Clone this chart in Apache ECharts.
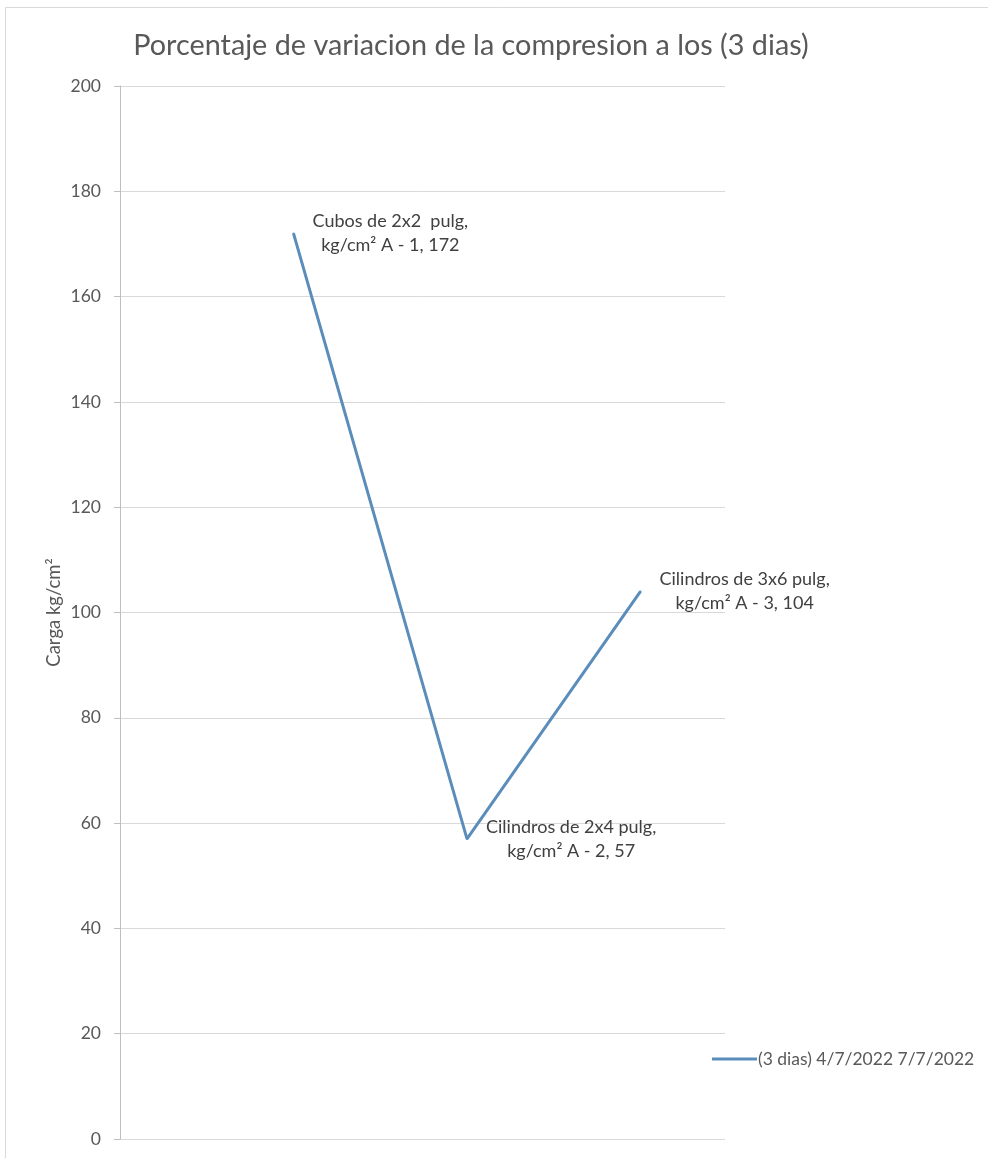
<!DOCTYPE html>
<html>
<head>
<meta charset="utf-8">
<script src="https://cdn.jsdelivr.net/npm/echarts@6/dist/echarts.min.js"></script>
<style>
  html, body { margin: 0; padding: 0; background: #ffffff; }
  #chart { width: 988px; height: 1158px; }
</style>
</head>
<body>
<div id="chart"></div>
<script>
// Test specimens, their sample codes and 3-day compressive load (kg/cm²)
const specimens = ['Cubos de 2x2  pulg, kg/cm²', 'Cilindros de 2x4 pulg, kg/cm²', 'Cilindros de 3x6 pulg, kg/cm²'];
const samples = ['A - 1', 'A - 2', 'A - 3'];
const loads = [172, 57, 104];
const yTicks = [0, 20, 40, 60, 80, 100, 120, 140, 160, 180, 200];
const seriesName = '(3 dias) 4/7/2022 7/7/2022';

const FONT = 'Lato, "Open Sans", sans-serif';
const LINE_COLOR = '#5b8dbb';
const LABEL_SIZE = 18;
const LABEL_GAP = 19;

// Label text: specimen name broken after "pulg,", then sample code and value
function labelText(i) {
  const s = specimens[i].replace(/pulg,\s*/, 'pulg,\n');
  return s + ' ' + samples[i] + ', ' + loads[i];
}

// Width of the widest label line, so each two-line block (centred lines)
// starts a fixed gap to the right of its point
const ctx = document.createElement('canvas').getContext('2d');
ctx.font = LABEL_SIZE + 'px ' + FONT;
function blockWidth(text) {
  return Math.max.apply(null, text.split('\n').map(l => ctx.measureText(l).width));
}

const points = loads.map((v, i) => {
  const txt = labelText(i);
  return {
    value: [i + 1, v],
    label: { offset: [LABEL_GAP + blockWidth(txt) / 2, 0] }
  };
});

const chart = echarts.init(document.getElementById('chart'), null, { renderer: 'canvas' });
chart.setOption({
  backgroundColor: '#ffffff',
  animation: false,
  textStyle: { fontFamily: FONT },
  title: {
    text: 'Porcentaje de variacion de la compresion a los (3 dias)',
    left: 466,
    textAlign: 'center',
    top: 26,
    textStyle: { fontFamily: FONT, fontSize: 28.8, fontWeight: 'normal', color: '#595959' }
  },
  graphic: [{
    type: 'rect',
    shape: { x: 5.5, y: 7.5, width: 1000, height: 1200 },
    style: { fill: 'none', stroke: '#d9d9d9', lineWidth: 1 },
    silent: true
  }],
  legend: {
    data: [{ name: seriesName, itemStyle: { color: LINE_COLOR, opacity: 1 } }],
    left: 707,
    top: 1045,
    icon: 'rect',
    itemWidth: 45,
    itemHeight: 3,
    textStyle: { fontFamily: FONT, fontSize: 17.5, color: '#595959', padding: [0, 0, 0, -4] }
  },
  grid: { left: 120, right: 263, top: 86, bottom: 19, containLabel: false },
  xAxis: {
    type: 'value',
    min: 0,
    max: 3.487,
    show: false
  },
  yAxis: {
    type: 'value',
    min: yTicks[0],
    max: yTicks[yTicks.length - 1],
    interval: yTicks[1] - yTicks[0],
    name: 'Carga kg/cm²',
    nameLocation: 'middle',
    nameGap: 56,
    nameMoveOverlap: false,
    nameTextStyle: { fontFamily: FONT, fontSize: 18.5, color: '#595959' },
    axisLine: { show: true, lineStyle: { color: '#bfbfbf', width: 1 } },
    axisTick: { show: true, length: 6, lineStyle: { color: '#bfbfbf' } },
    axisLabel: { margin: 19, fontFamily: FONT, fontSize: 17.5, color: '#595959' },
    splitLine: { show: true, lineStyle: { color: '#d9d9d9', width: 1 } }
  },
  series: [{
    name: seriesName,
    type: 'line',
    data: points,
    symbol: 'circle',
    symbolSize: 2,
    showSymbol: true,
    lineStyle: { color: LINE_COLOR, width: 3 },
    itemStyle: { color: LINE_COLOR },
    label: {
      show: true,
      position: 'inside',
      align: 'center',
      verticalAlign: 'middle',
      fontFamily: FONT,
      fontSize: LABEL_SIZE,
      lineHeight: 24,
      color: '#404040',
      formatter: p => labelText(p.dataIndex)
    }
  }]
});
</script>
</body>
</html>
